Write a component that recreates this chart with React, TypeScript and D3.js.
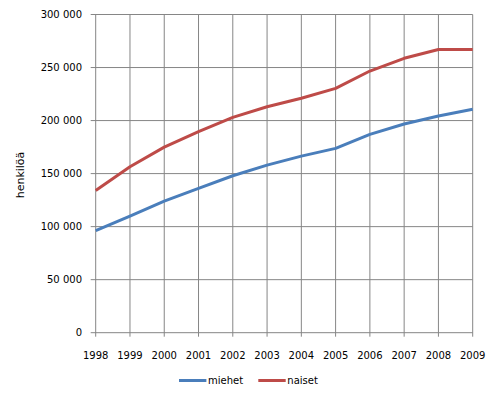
import React from "react";
import * as d3 from "d3";

const years = [1998, 1999, 2000, 2001, 2002, 2003, 2004, 2005, 2006, 2007, 2008, 2009];
const miehet = [96200, 110000, 124000, 136000, 148000, 158000, 166500, 173800, 187000, 196800, 204300, 210600];
const naiset = [134000, 156500, 175000, 189500, 203000, 213000, 221000, 230400, 246700, 258700, 267000, 267000];
const yTicks = [0, 50000, 100000, 150000, 200000, 250000, 300000];
const seriesNames = ["miehet", "naiset"];
const seriesColors = ["#4a7ebb", "#be4b48"];

const W = 495;
const H = 402;
const left = 95.7;
const right = 472.7;
const top = 14.5;
const bottom = 332.7;
const font = "'DejaVu Sans', Verdana, sans-serif";

const fmt = (v: number) => {
  const s = String(v);
  return s.replace(/\B(?=(\d{3})+(?!\d))/g, " ");
};

export default function App() {
  const x = d3.scaleLinear().domain([1998, 2009]).range([left, right]);
  const y = d3.scaleLinear().domain([0, 300000]).range([bottom, top]);
  const line = d3
    .line<number>()
    .x((_, i) => x(years[i]))
    .y((d) => y(d));
  const series = [miehet, naiset];
  const grid = "#868686";

  return (
    <svg
      width={W}
      height={H}
      style={{ position: "absolute", left: 0, top: 0, background: "#fff" }}
      fontFamily={font}
    >
      <rect x={0} y={0} width={W} height={H} fill="#fff" />
      {yTicks.map((t) => (
        <g key={"y" + t}>
          <line x1={left - 5} x2={right} y1={y(t)} y2={y(t)} stroke={grid} strokeWidth={1} />
          <text x={82} y={y(t) + 3.5} fontSize={10} textAnchor="end" fill="#000">
            {fmt(t)}
          </text>
        </g>
      ))}
      {years.map((yr) => (
        <g key={"x" + yr}>
          <line x1={x(yr)} x2={x(yr)} y1={top} y2={bottom + 4} stroke={grid} strokeWidth={1} />
          <text x={x(yr)} y={358.5} fontSize={10} textAnchor="middle" fill="#000">
            {yr}
          </text>
        </g>
      ))}
      <text
        transform={`translate(23.5,175) rotate(-90)`}
        fontSize={11}
        textAnchor="middle"
        fill="#000"
      >
        henkilöä
      </text>
      {series.map((s, i) => (
        <path
          key={seriesNames[i]}
          d={line(s) || ""}
          fill="none"
          stroke={seriesColors[i]}
          strokeWidth={3}
          strokeLinejoin="round"
        />
      ))}
      {seriesNames.map((n, i) => {
        const lx = i === 0 ? 179 : 258.3;
        return (
          <g key={"leg" + n}>
            <line x1={lx} x2={lx + 27.4} y1={380.5} y2={380.5} stroke={seriesColors[i]} strokeWidth={3} />
            <text x={lx + 29} y={384} fontSize={10} fill="#000">
              {n}
            </text>
          </g>
        );
      })}
    </svg>
  );
}
